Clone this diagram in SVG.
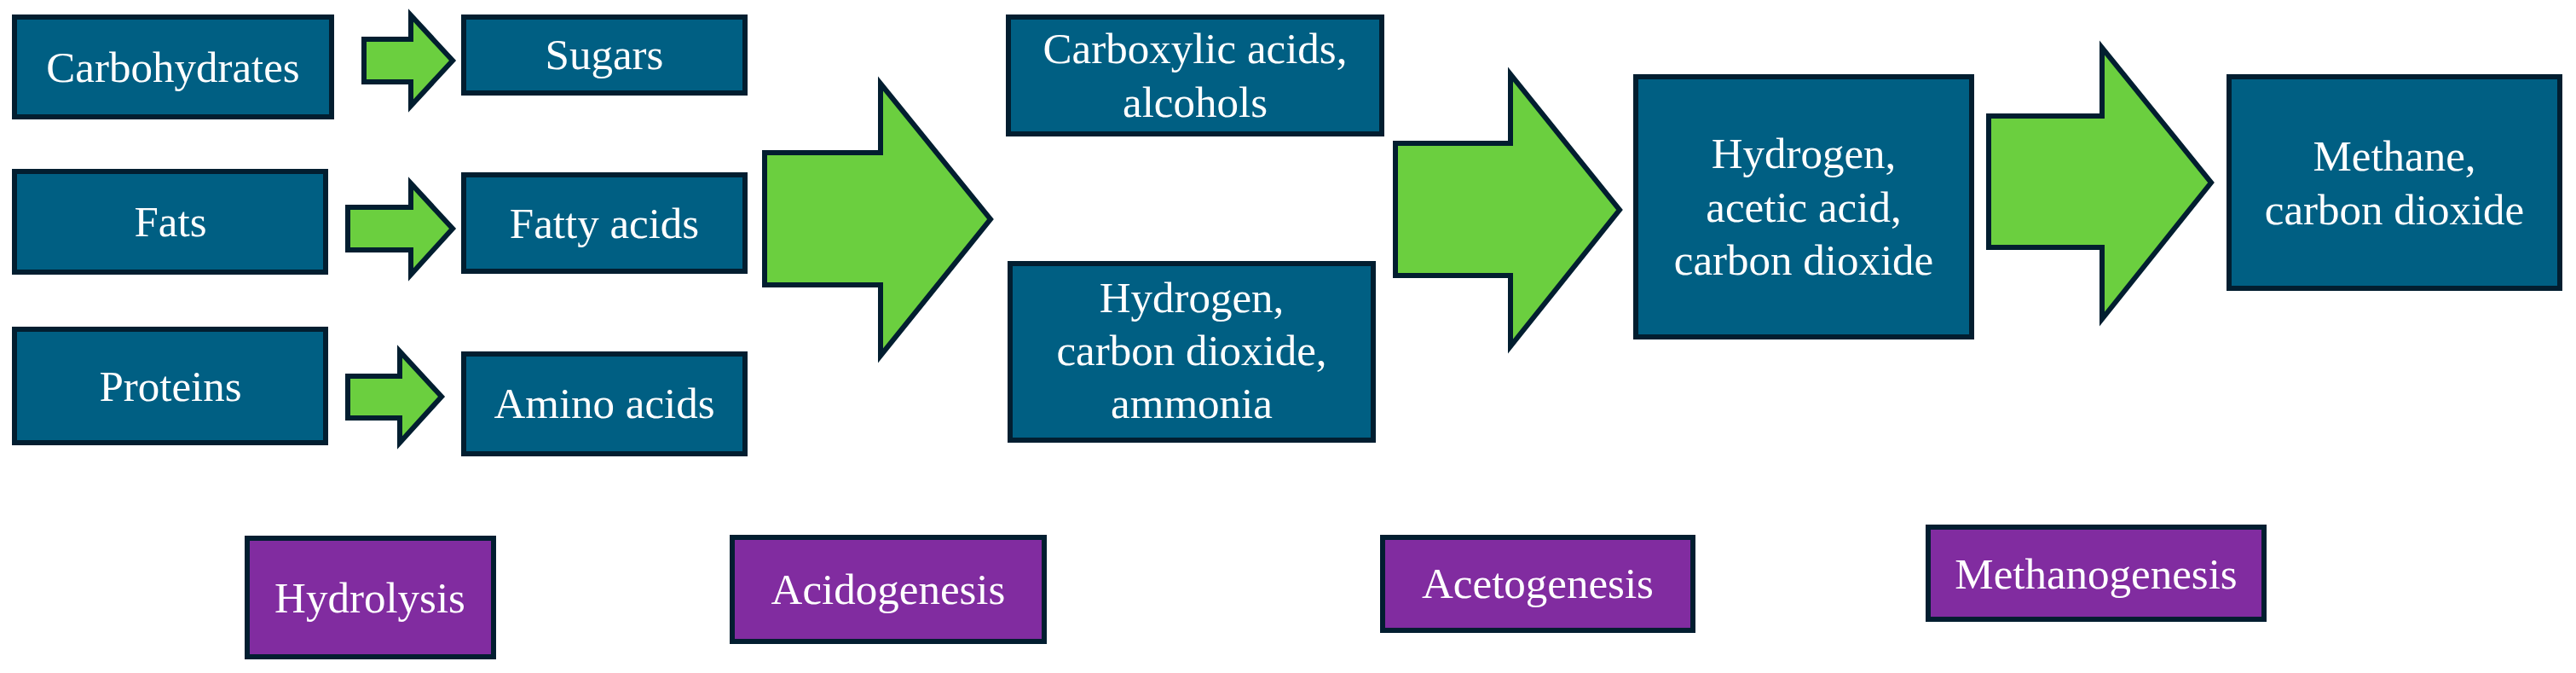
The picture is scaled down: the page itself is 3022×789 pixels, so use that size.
<svg xmlns="http://www.w3.org/2000/svg" width="3022" height="789" viewBox="0 0 3022 789">
<style>
.box{fill:#005F83;stroke:#021E30;stroke-width:6}
.phase{fill:#812CA0;stroke:#021E30;stroke-width:6}
.arrow{fill:#6BCF3F;stroke:#021E30;stroke-width:6;stroke-linejoin:miter}
text{font-family:"Liberation Serif","Times New Roman",serif;font-size:51px;fill:#FFFFFF;text-anchor:middle}
</style>
<rect width="3022" height="789" fill="#FFFFFF"/>
<g id="connectors">
<path class="arrow" d="M427,46 L482,46 L482,18 L531,71 L482,124 L482,96 L427,96 Z"/>
<path class="arrow" d="M408,243 L482,243 L482,215 L531,268 L482,322 L482,293 L408,293 Z"/>
<path class="arrow" d="M408,441 L469,441 L469,412 L518,465 L469,519 L469,490 L408,490 Z"/>
<path class="arrow" d="M897,179 L1033,179 L1033,98 L1162,257 L1033,417 L1033,334 L897,334 Z"/>
<path class="arrow" d="M1637,168 L1772,168 L1772,87 L1900,246 L1772,406 L1772,323 L1637,323 Z"/>
<path class="arrow" d="M2333,136 L2466,136 L2466,56 L2594,214 L2466,374 L2466,290 L2333,290 Z"/>
</g>
<g id="carbohydrates"><rect class="box" x="17" y="20" width="372" height="117"/><text x="203" y="96">Carbohydrates</text></g>
<g id="fats"><rect class="box" x="17" y="201" width="365" height="118"/><text x="200" y="277">Fats</text></g>
<g id="proteins"><rect class="box" x="17" y="386" width="365" height="133"/><text x="200" y="470">Proteins</text></g>
<g id="sugars"><rect class="box" x="544" y="20" width="330" height="89"/><text x="709" y="81">Sugars</text></g>
<g id="fatty-acids"><rect class="box" x="544" y="205" width="330" height="113"/><text x="709" y="279">Fatty acids</text></g>
<g id="amino-acids"><rect class="box" x="544" y="415" width="330" height="117"/><text x="709" y="490">Amino acids</text></g>
<g id="carboxylic-acids"><rect class="box" x="1183" y="20" width="438" height="137"/><text x="1402" y="74">Carboxylic acids,</text><text x="1402" y="137">alcohols</text></g>
<g id="hydrogen-ammonia"><rect class="box" x="1185" y="309" width="426" height="207"/><text x="1398" y="366">Hydrogen,</text><text x="1398" y="428">carbon dioxide,</text><text x="1398" y="490">ammonia</text></g>
<g id="hydrogen-acetic"><rect class="box" x="1919" y="90" width="394" height="305"/><text x="2116" y="197">Hydrogen,</text><text x="2116" y="260">acetic acid,</text><text x="2116" y="322">carbon dioxide</text></g>
<g id="methane"><rect class="box" x="2615" y="90" width="388" height="248"/><text x="2809" y="200">Methane,</text><text x="2809" y="263">carbon dioxide</text></g>
<g id="hydrolysis"><rect class="phase" x="290" y="631" width="289" height="139"/><text x="434" y="718">Hydrolysis</text></g>
<g id="acidogenesis"><rect class="phase" x="859" y="630" width="366" height="122"/><text x="1042" y="708">Acidogenesis</text></g>
<g id="acetogenesis"><rect class="phase" x="1622" y="630" width="364" height="109"/><text x="1804" y="701">Acetogenesis</text></g>
<g id="methanogenesis"><rect class="phase" x="2262" y="618" width="394" height="108"/><text x="2459" y="690">Methanogenesis</text></g>
</svg>
